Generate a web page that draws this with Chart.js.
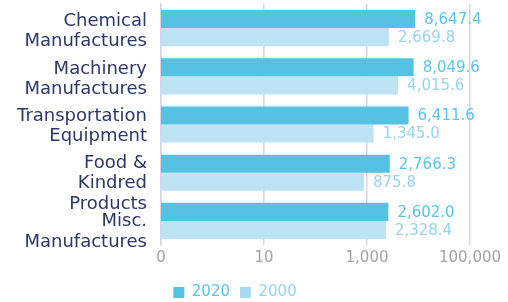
<!DOCTYPE html>
<html><head><meta charset="utf-8">
<script src="https://cdn.jsdelivr.net/npm/chart.js@4"></script>
<style>html,body{margin:0;padding:0;background:#fff}#wrap{width:508px;height:302px}</style>
</head><body><div id="wrap"><canvas id="c"></canvas></div>
<script>
const categories = [["Chemical","Manufactures"],["Machinery","Manufactures"],["Transportation","Equipment"],["Food &","Kindred","Products"],["Misc.","Manufactures"]];
const seriesNames = ["2020","2000"];
const values2020 = [8647.4, 8049.6, 6411.6, 2766.3, 2602.0];
const values2000 = [2669.8, 4015.6, 1345.0, 875.8, 2328.4];
const tickValues = [0.1, 10, 1000, 100000];
const tickLabels = ["0","10","1,000","100,000"];

const FONT = "'DejaVu Sans', sans-serif";
const barColors = ['#57C1E4', '#BDE3F4'];
const legendBoxColors = ['#57C1E4', '#A8D9F0'];
const labelColors = ['#5BC4E8', '#99D3EE'];
const catColor = '#2E3768';
const gridColor = '#D7D5E5';
const catOffsets = [3, 3, 2, 11, 11];

const fmt = v => v.toLocaleString('en-US', {minimumFractionDigits: 1, maximumFractionDigits: 1});

const valueLabels = {
  id: 'valueLabels',
  afterDatasetsDraw(chart) {
    const ctx = chart.ctx;
    ctx.save();
    ctx.font = "15px " + FONT;
    ctx.textAlign = 'left';
    ctx.textBaseline = 'middle';
    chart.data.datasets.forEach((ds, di) => {
      const meta = chart.getDatasetMeta(di);
      ctx.fillStyle = labelColors[di];
      meta.data.forEach((el, i) => {
        ctx.fillText(fmt(ds.data[i]), el.x + 9, el.y + 1);
      });
    });
    ctx.restore();
  }
};

const categoryLabels = {
  id: 'categoryLabels',
  afterDraw(chart) {
    const ctx = chart.ctx;
    const ys = chart.scales.y;
    const x = chart.chartArea.left - 14;
    const lh = 20.5;
    ctx.save();
    ctx.font = "18px " + FONT;
    ctx.fillStyle = catColor;
    ctx.textAlign = 'right';
    ctx.textBaseline = 'middle';
    categories.forEach((lines, i) => {
      const cy = ys.getPixelForValue(i) + catOffsets[i];
      const top = cy - (lines.length - 1) * lh / 2;
      lines.forEach((t, k) => ctx.fillText(t, x, top + k * lh));
    });
    ctx.restore();
  }
};

new Chart(document.getElementById('c'), {
  type: 'bar',
  data: {
    labels: categories.map(l => l.join(' ')),
    datasets: [
      {label: seriesNames[0], data: values2020, backgroundColor: barColors[0]},
      {label: seriesNames[1], data: values2000, backgroundColor: barColors[1]}
    ]
  },
  options: {
    indexAxis: 'y',
    responsive: true,
    maintainAspectRatio: false,
    animation: false,
    categoryPercentage: 0.75,
    barPercentage: 1.0,
    layout: {padding: {top: 4, right: 38, left: 0, bottom: 0}},
    scales: {
      x: {
        type: 'logarithmic',
        min: 0.1,
        max: 100000,
        afterBuildTicks: s => { s.ticks = tickValues.map(v => ({value: v})); },
        afterFit: s => { s.height = 30; },
        ticks: {
          autoSkip: false,
          maxRotation: 0,
          padding: 4,
          color: '#A3A3A3',
          font: {family: FONT, size: 15},
          callback: (v) => tickLabels[tickValues.indexOf(v)]
        },
        grid: {color: gridColor, lineWidth: 1.5, drawTicks: false},
        border: {display: false}
      },
      y: {
        afterFit: s => { s.width = 161; },
        ticks: {display: false},
        grid: {display: false, drawTicks: false},
        border: {display: true, color: gridColor, width: 1.5}
      }
    },
    plugins: {
      legend: {
        position: 'bottom',
        maxHeight: 27,
        labels: {
          boxWidth: 11,
          boxHeight: 11,
          padding: 10,
          font: {family: FONT, size: 15},
          generateLabels(chart) {
            const items = Chart.defaults.plugins.legend.labels.generateLabels(chart);
            items.forEach((it, i) => {
              it.fontColor = labelColors[i];
              it.fillStyle = legendBoxColors[i];
              it.lineWidth = 0;
              it.strokeStyle = 'transparent';
            });
            return items;
          }
        }
      },
      tooltip: {enabled: false}
    }
  },
  plugins: [valueLabels, categoryLabels]
});
</script>
</body></html>
